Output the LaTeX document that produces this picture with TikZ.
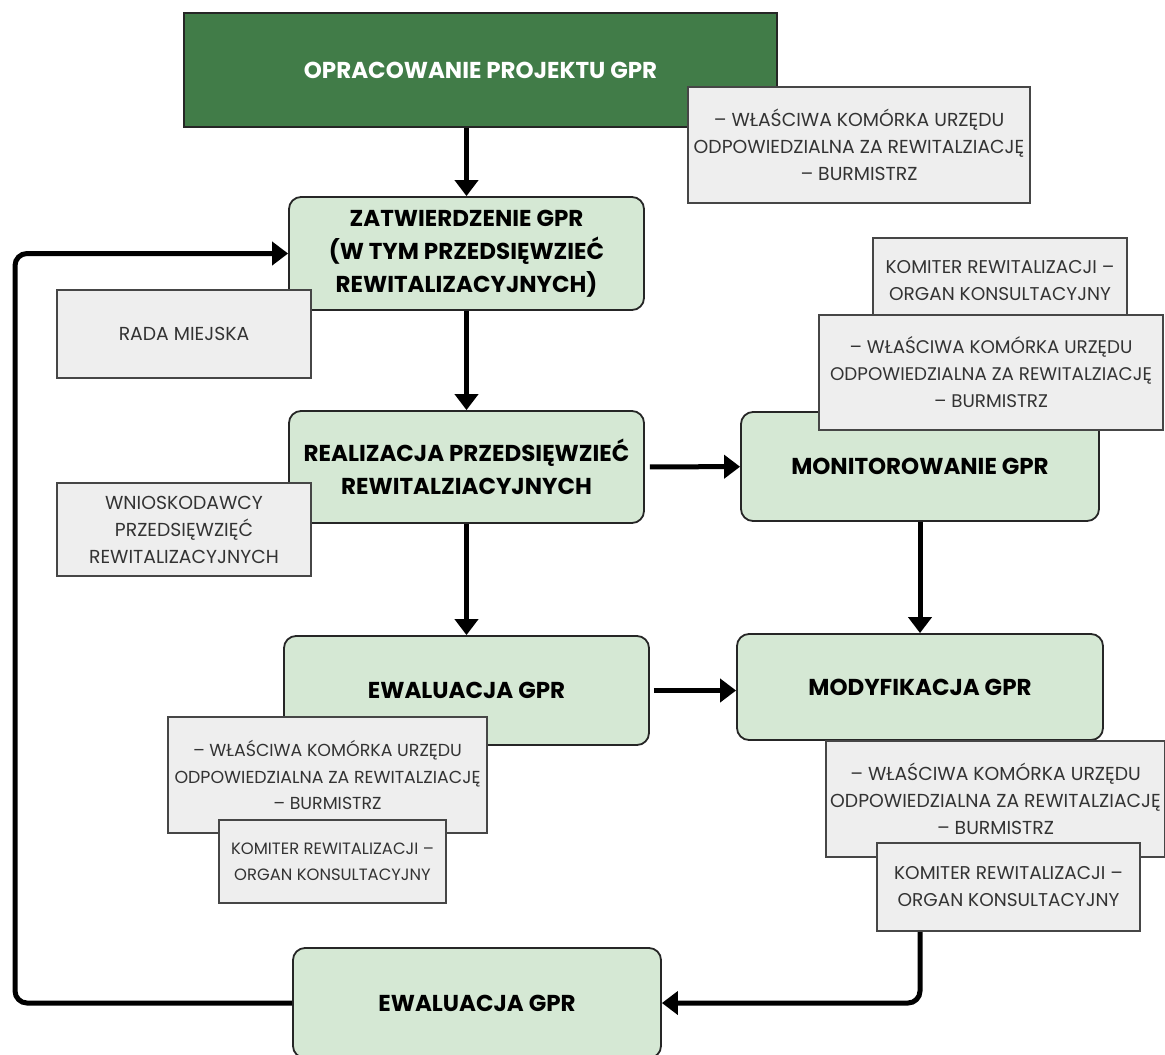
\documentclass[tikz,border=0pt]{standalone}
\usepackage{fontspec}
\setmainfont{Poppins}
\usepackage{tikz}
\usetikzlibrary{arrows.meta}
\definecolor{darkgreen}{RGB}{65,124,72}
\definecolor{lightgreen}{RGB}{213,232,212}
\definecolor{greyfill}{RGB}{238,238,238}
\definecolor{greyline}{RGB}{70,70,70}
\tikzstyle{topbox} = [rectangle, minimum width=593pt, minimum height=114pt, inner sep=0pt, text centered, draw=black!85, line width=1.8pt, fill=darkgreen, text=white, font=\fontsize{23}{33}\selectfont\bfseries]
\tikzstyle{mainbox} = [rectangle, rounded corners=12pt, inner sep=0pt, align=center, draw=black!85, line width=1.8pt, fill=lightgreen, font=\fontsize{23}{33}\selectfont\bfseries]
\tikzstyle{infobox} = [rectangle, inner sep=0pt, align=center, draw=greyline, line width=1.2pt, fill=greyfill, text=black!80, font=\fontsize{18.8}{27}\selectfont]
\tikzstyle{arrow} = [line width=5pt, -{Triangle[length=16pt, width=23pt]}, rounded corners=12pt]

\begin{document}
\begin{tikzpicture}[x=1pt, y=-1pt]
\useasboundingbox (0,0) rectangle (1165,1055);

\node (proj) [topbox] at (480.5,70) {OPRACOWANIE PROJEKTU GPR};
\node (zatw) [mainbox, minimum width=355pt, minimum height=113pt] at (466.5,253.5) {ZATWIERDZENIE GPR\\(W TYM PRZEDSIĘWZIEĆ\\REWITALIZACYJNYCH)};
\node (real) [mainbox, minimum width=355pt, minimum height=112pt] at (466.5,467) {REALIZACJA PRZEDSIĘWZIEĆ\\REWITALZIACYJNYCH};
\node (monit) [mainbox, minimum width=358pt, minimum height=109pt] at (920,466.5) {MONITOROWANIE GPR};
\node (ewal) [mainbox, minimum width=365pt, minimum height=109pt] at (466.5,690.5) {EWALUACJA GPR};
\node (modyf) [mainbox, minimum width=366pt, minimum height=106pt] at (920,687) {MODYFIKACJA GPR};
\node (ewal2) [mainbox, minimum width=368pt, minimum height=110pt] at (477,1003) {EWALUACJA GPR};
\coordinate (loop) at (15,600);

\draw [arrow] (proj.south -| zatw.north) -- (zatw.north);
\draw [arrow] (zatw) -- (real);
\draw [arrow, shorten <=5pt] (real) -- (monit);
\draw [arrow] (real) -- (ewal);
\draw [arrow] (monit) -- (modyf);
\draw [arrow, shorten <=4pt] (ewal.east) -- (ewal.east -| modyf.west);
\draw [arrow] (modyf.south) |- (ewal2.east);
\draw [arrow] (ewal2.west) -| (loop) |- (zatw.west);

\node (info1) [infobox, minimum width=342pt, minimum height=116pt] at (859,145) {– WŁAŚCIWA KOMÓRKA URZĘDU\\ODPOWIEDZIALNA ZA REWITALZIACJĘ\\– BURMISTRZ};
\node (rada) [infobox, minimum width=254pt, minimum height=88pt] at (184,334) {RADA MIEJSKA};
\node (wnio) [infobox, minimum width=254pt, minimum height=93pt] at (184,529.5) {WNIOSKODAWCY\\PRZEDSIĘWZIĘĆ\\REWITALIZACYJNYCH};
\node (komit1) [infobox, minimum width=254pt, minimum height=85pt, font=\fontsize{18.5}{27}\selectfont] at (1000,280.5) {KOMITER REWITALIZACJI –\\ORGAN KONSULTACYJNY};
\node (wlasc2) [infobox, minimum width=344pt, minimum height=115pt, font=\fontsize{18.3}{27}\selectfont] at (991,372.5) {– WŁAŚCIWA KOMÓRKA URZĘDU\\ODPOWIEDZIALNA ZA REWITALZIACJĘ\\– BURMISTRZ};
\node (wlasc3) [infobox, minimum width=319pt, minimum height=116pt, font=\fontsize{17.4}{26.5}\selectfont] at (327.5,775) {– WŁAŚCIWA KOMÓRKA URZĘDU\\ODPOWIEDZIALNA ZA REWITALZIACJĘ\\– BURMISTRZ};
\node (komit3) [infobox, minimum width=227pt, minimum height=83pt, font=\fontsize{16.4}{26}\selectfont] at (332.5,861.5) {KOMITER REWITALIZACJI –\\ORGAN KONSULTACYJNY};
\node (wlasc4) [infobox, minimum width=339pt, minimum height=116pt] at (995.5,799) {– WŁAŚCIWA KOMÓRKA URZĘDU\\ODPOWIEDZIALNA ZA REWITALZIACJĘ\\– BURMISTRZ};
\node (komit4) [infobox, minimum width=263pt, minimum height=88pt, font=\fontsize{18.5}{27}\selectfont] at (1008.5,887) {KOMITER REWITALIZACJI –\\ORGAN KONSULTACYJNY};

\end{tikzpicture}
\end{document}
